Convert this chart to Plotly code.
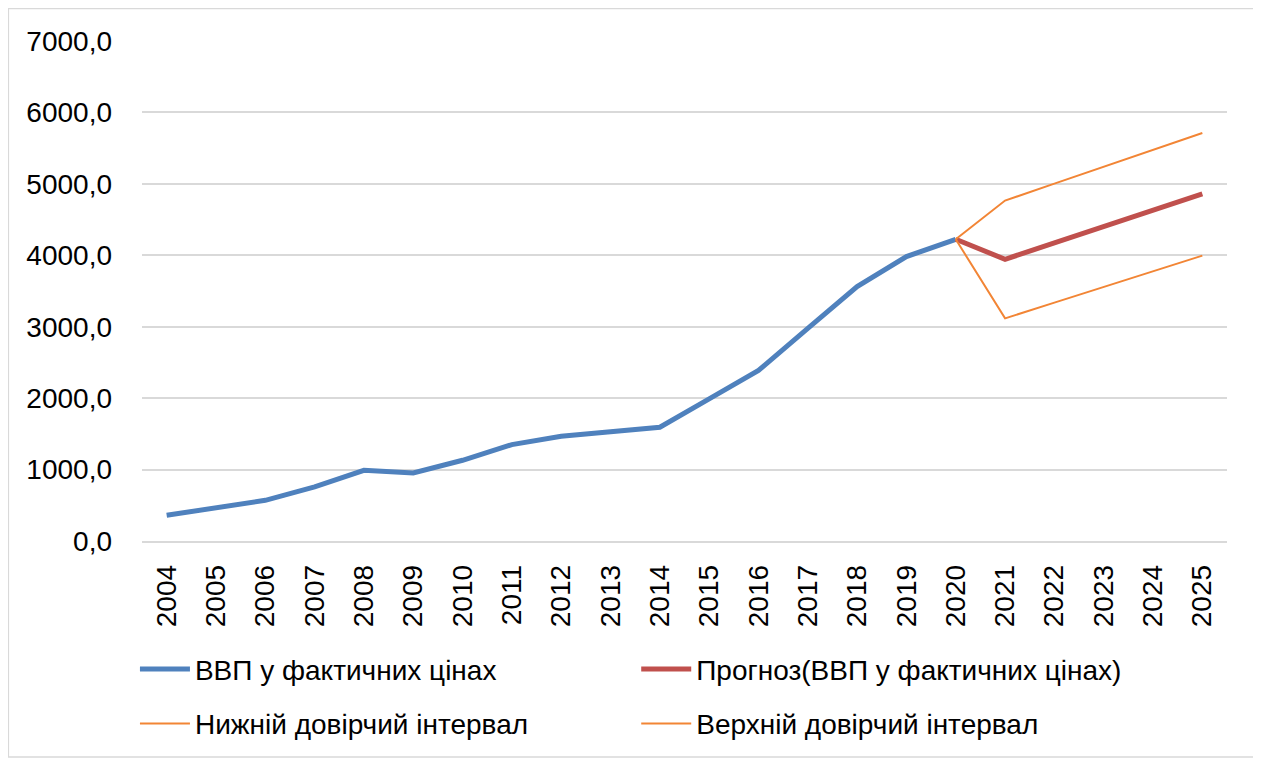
import plotly.graph_objects as go

years = [str(y) for y in range(2004, 2026)]
actual_years = years[:17]
actual = [360, 465, 570, 757, 990, 953, 1130, 1350, 1467, 1528, 1593,
          1990, 2388, 2977, 3561, 3981, 4224]
fc_years = years[16:]
forecast = [4224, 3944, 4173, 4402, 4631, 4860]
lower = [4224, 3117, 3337, 3556, 3776, 3995]
upper = [4224, 4766, 5003, 5239, 5476, 5712]

names = ["ВВП у фактичних цінах", "Прогноз(ВВП у фактичних цінах)",
         "Нижній довірчий інтервал", "Верхній довірчий інтервал"]

blue = "#4F81BD"
red = "#C0504D"
orange = "#F28535"
font = "Liberation Sans"
fs = 28

fig = go.Figure()
fig.add_trace(go.Scatter(x=actual_years, y=actual, mode="lines", name=names[0],
                         legend="legend", legendgroup="a",
                         line=dict(color=blue, width=5)))
fig.add_trace(go.Scatter(x=fc_years, y=forecast, mode="lines", name=names[1],
                         legend="legend2", legendgroup="b",
                         line=dict(color=red, width=5)))
fig.add_trace(go.Scatter(x=fc_years, y=lower, mode="lines", name=names[2],
                         legend="legend", legendgroup="c",
                         line=dict(color=orange, width=2)))
fig.add_trace(go.Scatter(x=fc_years, y=upper, mode="lines", name=names[3],
                         legend="legend2", legendgroup="d",
                         line=dict(color=orange, width=2)))

leg_common = dict(orientation="v", yref="container", y=0.1515, yanchor="top",
                  xanchor="left", font=dict(family=font, size=fs, color="black"),
                  tracegroupgap=15, bgcolor="rgba(0,0,0,0)", itemwidth=50)

fig.update_layout(
    width=1248, height=750,
    margin=dict(l=134, r=29, t=33, b=217, autoexpand=False),
    paper_bgcolor="white", plot_bgcolor="white",
    separators=", ",
    font=dict(family=font, size=fs, color="black"),
    showlegend=True,
    legend=dict(x=-0.0065, **leg_common),
    legend2=dict(x=0.4555, **leg_common),
    shapes=[dict(type="rect", xref="paper", yref="paper", x0=-0.1232, x1=1.0248,
                 y0=-0.432, y1=1.065, line=dict(color="#D9D9D9", width=1.5))],
)
fig.update_xaxes(type="category", categoryorder="array", categoryarray=years,
                 range=[-0.5, 21.5], tickangle=-90, showgrid=False,
                 showline=True, linecolor="#D9D9D9", linewidth=1.5,
                 ticks="", tickfont=dict(size=fs), ticklabelstandoff=11)
fig.update_yaxes(range=[0, 7000], dtick=1000, tickformat=".1f",
                 showgrid=True, gridcolor="#D9D9D9", gridwidth=1.5,
                 zeroline=False, showline=False, ticks="",
                 tickfont=dict(size=fs), ticklabelstandoff=29)

fig.write_html("out.html")
